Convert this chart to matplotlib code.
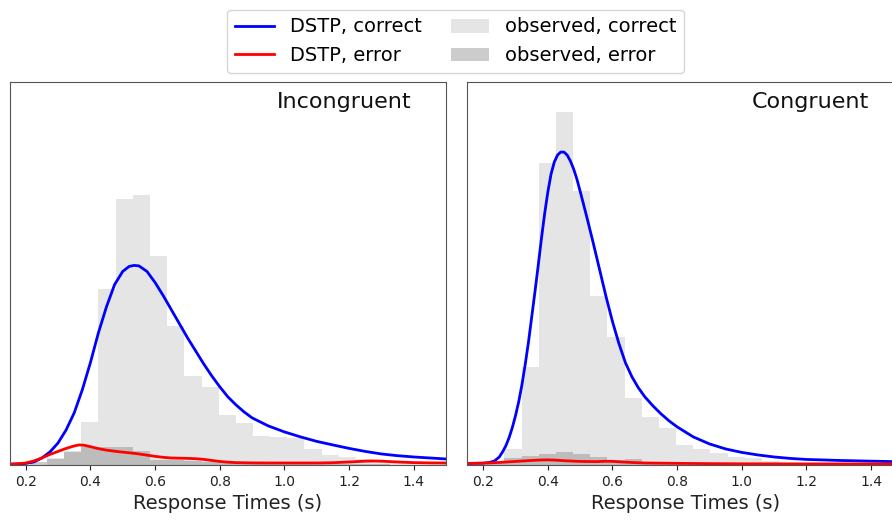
import matplotlib
matplotlib.use('Agg')
import matplotlib.pyplot as plt
import numpy as np
from matplotlib.lines import Line2D
from matplotlib.patches import Patch

# histogram bin edges shared by both conditions (s)
bin_edges = [0.212, 0.265, 0.319, 0.372, 0.425, 0.478, 0.531, 0.584, 0.638,
             0.691, 0.744, 0.797, 0.850, 0.903, 0.956, 1.009, 1.062, 1.115,
             1.168, 1.221, 1.274, 1.327, 1.380, 1.433, 1.486, 1.539]

# observed densities, incongruent
incong_obs_correct = [0.0, 0.08, 0.15, 0.47, 1.93, 2.92, 2.96, 2.29, 1.52, 0.98,
                      0.86, 0.55, 0.46, 0.32, 0.31, 0.30, 0.17, 0.11, 0.09, 0.07,
                      0.04, 0.03, 0.02, 0.02, 0.01]
incong_obs_error = [0.03, 0.07, 0.14, 0.20, 0.20, 0.20, 0.15, 0.05, 0.05, 0.04,
                    0.03, 0.02, 0.01, 0.01, 0.01, 0.01, 0.01, 0.01, 0.01, 0.01,
                    0.01, 0.0, 0.0, 0.0, 0.0]

# observed densities, congruent
cong_obs_correct = [0.02, 0.17, 1.08, 3.31, 3.87, 3.00, 1.85, 1.40, 0.74, 0.53,
                    0.41, 0.22, 0.18, 0.13, 0.09, 0.08, 0.04, 0.02, 0.01, 0.01,
                    0.01, 0.0, 0.0, 0.0, 0.0]
cong_obs_error = [0.02, 0.08, 0.10, 0.12, 0.14, 0.12, 0.09, 0.06, 0.07, 0.03,
                  0.02, 0.01, 0.01, 0.01, 0.0, 0.0, 0.0, 0.0, 0.0, 0.0,
                  0.0, 0.0, 0.0, 0.0, 0.0]

# DSTP model densities, incongruent
incong_rt_correct = [0.15, 0.175, 0.2, 0.225, 0.25, 0.275, 0.3, 0.325, 0.35, 0.375,
                     0.4, 0.425, 0.45, 0.475, 0.5, 0.52, 0.535, 0.55, 0.575, 0.6,
                     0.625, 0.65, 0.675, 0.7, 0.725, 0.75, 0.775, 0.8, 0.825,
                     0.85, 0.875, 0.9, 0.95, 1.0, 1.05, 1.1, 1.15, 1.2, 1.25,
                     1.3, 1.35, 1.4, 1.45, 1.5]
incong_dstp_correct = [0.006, 0.011, 0.017, 0.033, 0.077, 0.143, 0.242, 0.385,
                       0.572, 0.825, 1.122, 1.452, 1.738, 1.98, 2.123, 2.178,
                       2.189, 2.184, 2.123, 2.002, 1.859, 1.705, 1.551, 1.397,
                       1.254, 1.111, 0.979, 0.858, 0.748, 0.66, 0.583, 0.517,
                       0.429, 0.363, 0.308, 0.259, 0.22, 0.182, 0.149, 0.121,
                       0.102, 0.088, 0.077, 0.066]
incong_rt_error = [0.15, 0.175, 0.2, 0.225, 0.25, 0.275, 0.3, 0.325, 0.35, 0.365,
                   0.38, 0.4, 0.425, 0.45, 0.475, 0.5, 0.525, 0.55, 0.575, 0.6,
                   0.625, 0.65, 0.675, 0.7, 0.725, 0.75, 0.775, 0.8, 0.825, 0.85,
                   0.9, 0.95, 1.0, 1.05, 1.1, 1.15, 1.2, 1.25, 1.28, 1.3, 1.35,
                   1.4, 1.45, 1.5]
incong_dstp_error = [0.011, 0.014, 0.022, 0.044, 0.077, 0.116, 0.149, 0.182,
                     0.209, 0.22, 0.217, 0.201, 0.179, 0.163, 0.151, 0.141,
                     0.132, 0.121, 0.108, 0.095, 0.084, 0.077, 0.075, 0.073,
                     0.069, 0.062, 0.05, 0.039, 0.031, 0.026, 0.023, 0.022,
                     0.022, 0.022, 0.022, 0.025, 0.033, 0.042, 0.044, 0.042,
                     0.033, 0.026, 0.023, 0.022]

# DSTP model densities, congruent
cong_rt_correct = [0.15, 0.2, 0.22, 0.235, 0.25, 0.26, 0.27, 0.28, 0.29, 0.3,
                   0.31, 0.32, 0.33, 0.34, 0.35, 0.36, 0.37, 0.38, 0.39, 0.4,
                   0.41, 0.42, 0.43, 0.44, 0.45, 0.46, 0.47, 0.48, 0.49, 0.5,
                   0.52, 0.54, 0.56, 0.58, 0.6, 0.62, 0.64, 0.66, 0.68, 0.7,
                   0.725, 0.75, 0.775, 0.8, 0.85, 0.9, 0.95, 1.0, 1.05, 1.1,
                   1.15, 1.2, 1.3, 1.4, 1.5]
cong_dstp_correct = [0.017, 0.02, 0.028, 0.044, 0.088, 0.143, 0.209, 0.297,
                     0.407, 0.539, 0.693, 0.88, 1.1, 1.342, 1.617, 1.892, 2.178,
                     2.475, 2.75, 2.992, 3.19, 3.322, 3.399, 3.432, 3.432, 3.399,
                     3.333, 3.245, 3.135, 3.003, 2.728, 2.442, 2.145, 1.848,
                     1.573, 1.331, 1.122, 0.968, 0.847, 0.748, 0.649, 0.561,
                     0.484, 0.418, 0.308, 0.231, 0.176, 0.138, 0.11, 0.088,
                     0.072, 0.061, 0.05, 0.042, 0.035]
cong_rt_error = [0.15, 0.2, 0.25, 0.3, 0.35, 0.38, 0.4, 0.42, 0.45, 0.5, 0.55,
                 0.58, 0.6, 0.63, 0.67, 0.7, 0.8, 0.9, 1.0, 1.2, 1.5]
cong_dstp_error = [0.017, 0.02, 0.028, 0.039, 0.05, 0.055, 0.056, 0.054, 0.047,
                   0.039, 0.037, 0.041, 0.04, 0.033, 0.026, 0.022, 0.018, 0.015,
                   0.013, 0.012, 0.011]

fig = plt.figure(figsize=(8.92, 5.21), dpi=100)
ax1 = fig.add_axes([0.0107, 0.1075, 0.4894, 0.735])
ax2 = fig.add_axes([0.5235, 0.1075, 0.4894, 0.735])

edges = np.array(bin_edges)
widths = np.diff(edges)

panels = [
    (ax1, 'Incongruent', incong_obs_correct, incong_obs_error,
     incong_rt_correct, incong_dstp_correct, incong_rt_error, incong_dstp_error),
    (ax2, 'Congruent', cong_obs_correct, cong_obs_error,
     cong_rt_correct, cong_dstp_correct, cong_rt_error, cong_dstp_error),
]

for ax, name, obs_c, obs_e, rt_c, dstp_c, rt_e, dstp_e in panels:
    ax.bar(edges[:-1], obs_c, width=widths, align='edge', color='gray',
           alpha=0.2, linewidth=0)
    ax.bar(edges[:-1], obs_e, width=widths, align='edge', color='gray',
           alpha=0.4, linewidth=0)
    ax.plot(rt_c, dstp_c, color='blue', lw=2)
    ax.plot(rt_e, dstp_e, color='red', lw=2)
    ax.set_xlim(0.15, 1.5)
    ax.set_ylim(0, 4.2)
    ax.set_yticks([])
    ax.set_xticks([0.2, 0.4, 0.6, 0.8, 1.0, 1.2, 1.4])
    ax.tick_params(axis='x', labelsize=10, colors='#222222')
    ax.set_xlabel('Response Times (s)', fontsize=14, color='#222222')
    for sp in ax.spines.values():
        sp.set_color('#555555')
    ax.text(0.92, 0.975, name, transform=ax.transAxes, ha='right', va='top',
            fontsize=16, color='#111111')

handles = [Line2D([], [], color='blue', lw=2),
           Line2D([], [], color='red', lw=2),
           Patch(color='gray', alpha=0.2, linewidth=0),
           Patch(color='gray', alpha=0.4, linewidth=0)]
labels = ['DSTP, correct', 'DSTP, error', 'observed, correct', 'observed, error']
fig.legend(handles, labels, ncol=2, loc='upper center',
           bbox_to_anchor=(0.511, 1.0), fontsize=14, columnspacing=1.5)

fig.savefig('out.png', dpi=100)
